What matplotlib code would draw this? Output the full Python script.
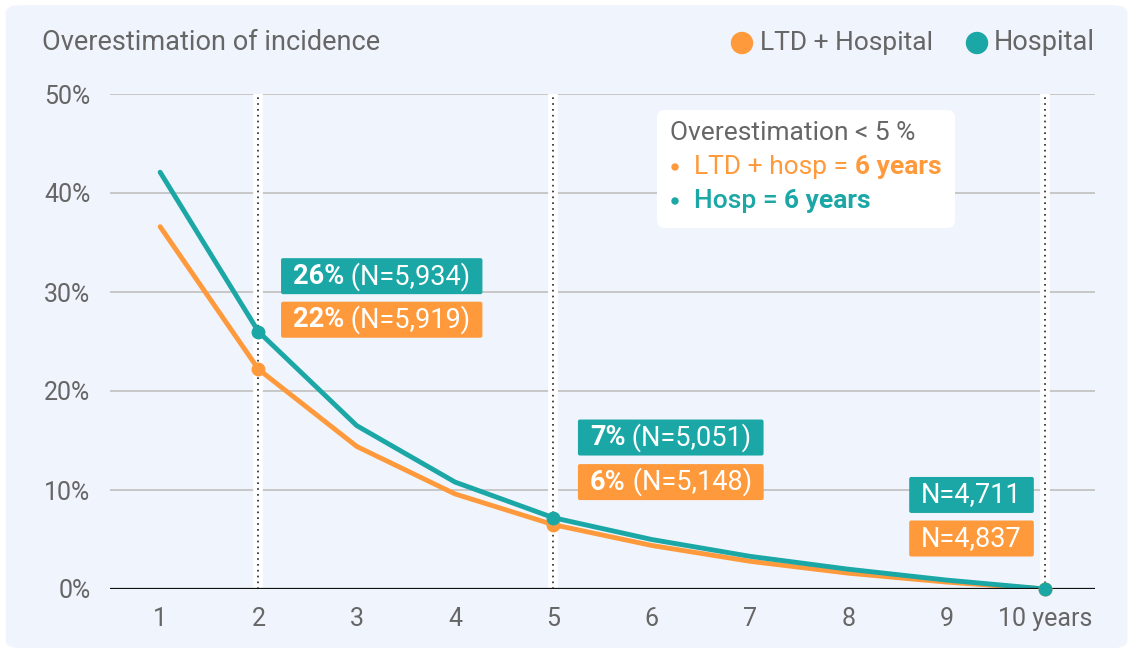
import matplotlib
matplotlib.use("Agg")
import matplotlib.pyplot as plt
from matplotlib.patches import FancyBboxPatch
from matplotlib.transforms import IdentityTransform, Bbox

plt.rcParams["font.family"] = ["Roboto", "DejaVu Sans"]

# data
years = [1, 2, 3, 4, 5, 6, 7, 8, 9, 10]
hospital = [42.1, 26.0, 16.5, 10.8, 7.2, 5.0, 3.3, 2.0, 0.9, 0.0]
ltd_hosp = [36.6, 22.2, 14.4, 9.6, 6.5, 4.4, 2.8, 1.6, 0.7, 0.0]
marked_years = [2, 5, 10]
y_ticks = [0, 10, 20, 30, 40, 50]
x_labels = ["1", "2", "3", "4", "5", "6", "7", "8", "9", "10 years"]

# label boxes: (left x, centre y, bold part, rest, series)
labels = [
    (2.23, 31.6, "26%", " (N=5,934)", "hosp"),
    (2.23, 27.2, "22%", " (N=5,919)", "ltd"),
    (5.25, 15.3, "7%", " (N=5,051)", "hosp"),
    (5.25, 10.8, "6%", " (N=5,148)", "ltd"),
    (8.62, 9.5, "", "N=4,711", "hosp"),
    (8.62, 5.1, "", "N=4,837", "ltd"),
]

ORANGE = "#FF9A3C"
TEAL = "#1BA7A6"
GREY = "#666666"
BG = "#F0F4FC"
colors = {"hosp": TEAL, "ltd": ORANGE}

fig = plt.figure(figsize=(11.33, 6.52), dpi=100, facecolor="white")
fig.patches.append(FancyBboxPatch((0.005, 0.006), 0.99, 0.986,
                                  boxstyle="round,pad=0,rounding_size=0.012",
                                  transform=fig.transFigure, facecolor=BG,
                                  edgecolor="none", zorder=-10))

ax = fig.add_axes([110 / 1133, 63 / 652, 985 / 1133, 495 / 652])
ax.set_facecolor("none")
ax.set_xlim(0.49, 10.51)
ax.set_ylim(0, 50)
for s in ax.spines.values():
    s.set_visible(False)

for t in y_ticks[1:]:
    ax.axhline(t, color="#C4C4C4", lw=1.3, zorder=1)
ax.axhline(0, color="#111111", lw=1.6, zorder=6)

for x in marked_years:
    ax.plot([x, x], [0, 50], color="white", lw=7, zorder=2, solid_capstyle="butt")
    ax.plot([x, x], [0, 50], color="#222222", lw=1.2, ls=(0, (1, 2.5)), zorder=3)

ax.plot(years, ltd_hosp, color=ORANGE, lw=3.5, zorder=4, solid_capstyle="round")
ax.plot(years, hospital, color=TEAL, lw=3.5, zorder=5, solid_capstyle="round")
for x in marked_years:
    i = years.index(x)
    ax.plot(x, ltd_hosp[i], "o", color=ORANGE, ms=9, zorder=7, clip_on=False)
    ax.plot(x, hospital[i], "o", color=TEAL, ms=9, zorder=7, clip_on=False)

ax.set_yticks(y_ticks)
ax.set_yticklabels([f"{t}%" for t in y_ticks], fontsize=18, color=GREY)
ax.set_xticks(years)
ax.set_xticklabels(x_labels, fontsize=18, color=GREY)
ax.tick_params(length=0, axis="y", pad=14)
ax.tick_params(length=0, axis="x", pad=13)

# title and legend
fig.text(42 / 1133, 1 - 43 / 652, "Overestimation of incidence", fontsize=19.5,
         color=GREY, va="center", ha="left")
fig.text(760 / 1133, 1 - 43 / 652, "LTD + Hospital", fontsize=19,
         color=GREY, va="center", ha="left")
fig.text(994 / 1133, 1 - 43 / 652, "Hospital", fontsize=19.5,
         color=GREY, va="center", ha="left")
fig.patches.append(plt.Circle((742, 652 - 43), 10.5, transform=IdentityTransform(),
                              color=ORANGE, figure=fig))
fig.patches.append(plt.Circle((977, 652 - 43), 10.5, transform=IdentityTransform(),
                              color=TEAL, figure=fig))

# info box
fig.patches.append(FancyBboxPatch((657, 652 - 228), 298, 118,
                                  boxstyle="round,pad=0,rounding_size=8",
                                  transform=IdentityTransform(), facecolor="white",
                                  edgecolor="none", zorder=1))
fig.text(670 / 1133, 1 - 133 / 652, "Overestimation < 5 %", fontsize=19,
         color=GREY, va="center")
for c, yy in [(ORANGE, 167), (TEAL, 201)]:
    fig.patches.append(plt.Circle((675, 652 - yy), 3, transform=IdentityTransform(),
                                  color=c, figure=fig, zorder=2))
t1 = fig.text(694 / 1133, 1 - 167 / 652, "LTD + hosp = ", fontsize=19,
              color=ORANGE, va="center")
t2 = fig.text(694 / 1133, 1 - 201 / 652, "Hosp = ", fontsize=19, color=TEAL,
              va="center", fontweight="medium")
fig.canvas.draw()
r = fig.canvas.get_renderer()
for t, c, yy in [(t1, ORANGE, 167), (t2, TEAL, 201)]:
    bb = t.get_window_extent(r)
    fig.text(bb.x1 / 1133, 1 - yy / 652, "6 years", fontsize=19, color=c,
             va="center", fontweight="bold")

# label boxes with mixed weight text
PAD_X = 12
FS = 19.5
for x, y, bold, rest, key in labels:
    parts = []
    if bold:
        tb = ax.annotate(bold, xy=(x, y), xytext=(PAD_X * 0.72, 0),
                         textcoords="offset points", fontsize=FS,
                         fontweight="bold", color="white", va="center",
                         ha="left", zorder=11)
        parts.append(tb)
        fig.canvas.draw()
        tr = ax.annotate(rest, xy=(1, 0.5), xycoords=tb, va="center", ha="left",
                         fontsize=FS, color="white", zorder=11)
    else:
        tr = ax.annotate(rest, xy=(x, y), xytext=(PAD_X * 0.72, 0),
                         textcoords="offset points", fontsize=FS,
                         color="white", va="center", ha="left", zorder=11)
    parts.append(tr)
    fig.canvas.draw()
    u = Bbox.union([p.get_window_extent(r) for p in parts])
    x0, yc = ax.transData.transform((x, y))
    h = 36
    ax.add_patch(FancyBboxPatch((x0, yc - h / 2), u.x1 - x0 + PAD_X, h,
                                boxstyle="round,pad=0,rounding_size=2",
                                transform=IdentityTransform(),
                                facecolor=colors[key], edgecolor="none",
                                zorder=10, clip_on=False))

fig.savefig("out.png", dpi=100, facecolor="white")
